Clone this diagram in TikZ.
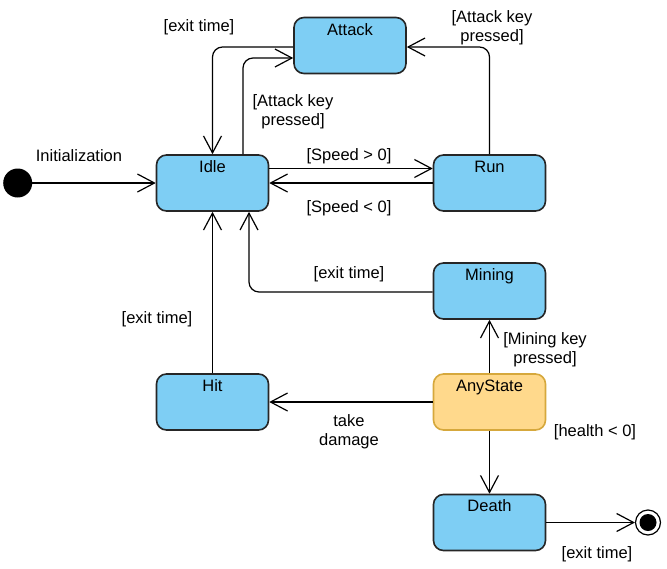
\documentclass[tikz,border=0pt]{standalone}
\usepackage{fontspec}
\setmainfont{Liberation Sans}
\usetikzlibrary{arrows.meta}
\definecolor{stblue}{RGB}{126,206,244}
\definecolor{styellow}{RGB}{255,217,140}
\definecolor{styborder}{RGB}{214,168,60}
\tikzset{
  state/.style={draw=black!85, line width=1.6pt, fill=stblue, rounded corners=10pt,
    minimum width=112pt, minimum height=56pt, inner sep=0pt},
  anystate/.style={state, draw=styborder, fill=styellow},
  stname/.style={anchor=base, inner sep=0pt},
  arr/.style={line width=1.2pt, -{Straight Barb[length=17pt,width=18pt,line width=1.2pt]}},
  lbl/.style={align=center, inner sep=0pt},
  every node/.append style={font=\fontsize{16.5}{19}\selectfont},
}
\begin{document}
\begin{tikzpicture}[x=1pt,y=-1pt]
\useasboundingbox[fill=white] (0,0) rectangle (667,568);
% states
\node[state] (attack) at (350,45.5) {};
\node[state] (idle) at (212.5,183) {};
\node[state] (run) at (489.5,183) {};
\node[state] (mining) at (489.5,291) {};
\node[state] (hit) at (212.5,402) {};
\node[anystate] (any) at (489.5,402) {};
\node[state] (death) at (489.5,522.5) {};
\node[stname] (attackt) at ([yshift=-19pt]attack.north) {Attack};
\node[stname] (idlet) at ([yshift=-18pt]idle.north) {Idle};
\node[stname] (runt) at ([yshift=-18pt]run.north) {Run};
\node[stname] (miningt) at ([yshift=-18pt]mining.north) {Mining};
\node[stname] (hitt) at ([yshift=-18pt]hit.north) {Hit};
\node[stname] (anyt) at ([yshift=-18pt]any.north) {AnyState};
\node[stname] (deatht) at ([yshift=-18pt]death.north) {Death};
% initial & final
\node[circle, fill=black, minimum size=29pt, inner sep=0pt] (init) at (17.7,183) {};
\node[circle, draw=black, line width=1.2pt, fill=white, minimum size=25pt, inner sep=0pt] (final) at (648,522.5) {};
\node[circle, fill=black, minimum size=17pt, inner sep=0pt] (finalin) at (final.center) {};
% connectors
\draw[arr] (init) -- (idle.west);
\draw[arr, rounded corners=10pt] ([yshift=-1.5pt]attack.west) -| (idle.north);
\draw[arr, rounded corners=10pt] ([xshift=30.5pt]idle.north) |- ([yshift=-12.5pt]attack.west);
\draw[arr, rounded corners=10pt] (run.north) |- ([yshift=-1.5pt]attack.east);
\draw[arr] ([yshift=14.5pt]idle.east) -- ([yshift=14.5pt]run.west);
\draw[arr] (run.west) -- (idle.east);
\draw[arr, rounded corners=10pt] ([yshift=-1pt]mining.west) -| ([xshift=36.5pt]idle.south);
\draw[arr] (hit.north) -- (idle.south);
\draw[arr] (any.north) -- (mining.south);
\draw[arr] (any.west) -- (hit.east);
\draw[arr] (any.south) -- (death.north);
\draw[arr] (death.east) -- (final);
% labels
\node[lbl] (l1) at (79,156) {Initialization};
\node[lbl] (l2) at (199,27) {[exit time]};
\node[lbl] (l3) at (293,112) {[Attack key\\pressed]};
\node[lbl] (l4) at (492,28) {[Attack key\\pressed]};
\node[lbl] (l5) at (349,156.5) {[Speed > 0]};
\node[lbl] (l6) at (349,208.5) {[Speed < 0]};
\node[lbl] (l7) at (349,274.5) {[exit time]};
\node[lbl] (l8) at (157,319.5) {[exit time]};
\node[lbl] (l9) at (545,350) {[Mining key\\pressed]};
\node[lbl] (l10) at (349,432) {take\\damage};
\node[lbl] (l11) at (595,432.5) {[health < 0]};
\node[lbl] (l12) at (597,554) {[exit time]};
\end{tikzpicture}
\end{document}
